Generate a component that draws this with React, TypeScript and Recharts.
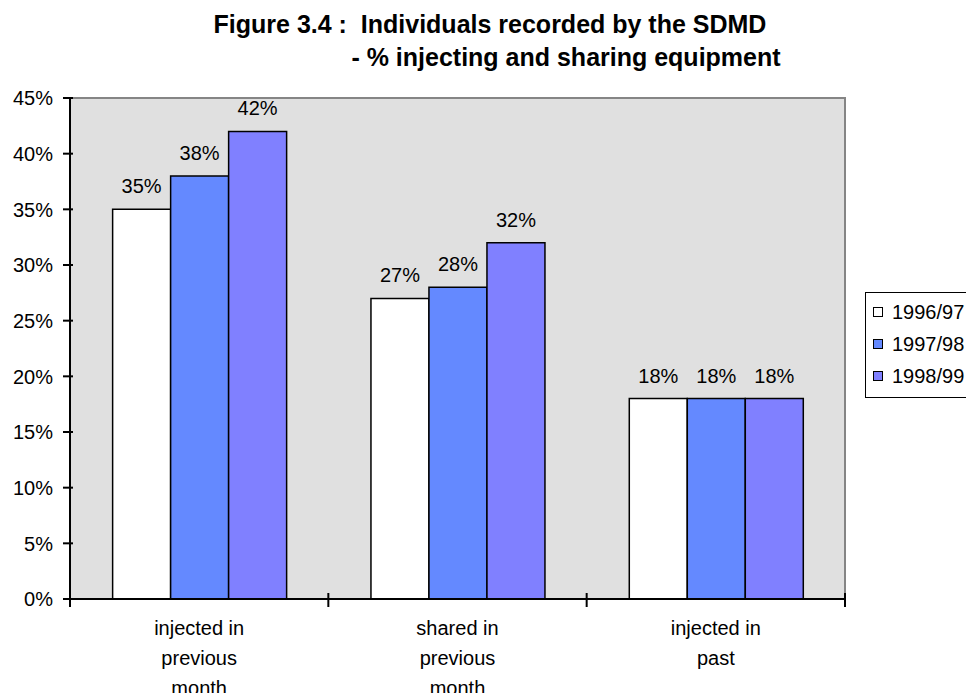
import { Bar, BarChart, LabelList, ReferenceArea, XAxis, YAxis } from "recharts";

const categories = ["injected in\nprevious\nmonth", "shared in\nprevious\nmonth", "injected in\npast"];
const seriesNames = ["1996/97", "1997/98", "1998/99"];
const values9697 = [35, 27, 18];
const values9798 = [38, 28, 18];
const values9899 = [42, 32, 18];
const yTicks = [0, 5, 10, 15, 20, 25, 30, 35, 40, 45];
const seriesColors = ["#FFFFFF", "#6489FF", "#8080FF"];

const font = "'Liberation Sans', Arial, sans-serif";

const chartData = categories.map((name, i) => ({
  name,
  s0: values9697[i],
  s1: values9798[i],
  s2: values9899[i],
}));

function YTick({ x, y, payload }: any) {
  return (
    <g>
      <line x1={x - 7} x2={x + 3} y1={y} y2={y} stroke="#000" strokeWidth={2} />
      <text x={x - 17} y={y} dy="0.36em" textAnchor="end" fontSize={20} fontFamily={font} fill="#000">
        {`${payload.value}%`}
      </text>
    </g>
  );
}

// category labels + tick marks on the category boundaries
function CatTick({ x, y, payload, width, index, visibleTicksCount }: any) {
  const lines = String(payload.value).split("\n");
  const bw = Number(width) / visibleTicksCount;
  const edges = [x - bw / 2];
  if (index === visibleTicksCount - 1) edges.push(x + bw / 2);
  return (
    <g>
      {edges.map((ex, i) => (
        <line key={i} x1={ex} x2={ex} y1={y - 6} y2={y + 8} stroke="#000" strokeWidth={2} />
      ))}
      <text x={x} y={y + 36} textAnchor="middle" fontSize={20} fontFamily={font} fill="#000">
        {lines.map((l, i) => (
          <tspan key={i} x={x} dy={i === 0 ? 0 : 30}>{l}</tspan>
        ))}
      </text>
    </g>
  );
}

export default function App() {
  return (
    <div style={{ position: "absolute", left: 0, top: 0, width: 966, height: 693, overflow: "hidden", background: "#fff" }}>
      <svg width={966} height={80} style={{ position: "absolute", left: 0, top: 0 }}>
        <text x={490} y={33} textAnchor="middle" fontSize={25} fontWeight="bold" fontFamily={font} fill="#000" xmlSpace="preserve">
          Figure 3.4 :  Individuals recorded by the SDMD
        </text>
        <text x={566} y={66} textAnchor="middle" fontSize={25} fontWeight="bold" fontFamily={font} fill="#000">
          - % injecting and sharing equipment
        </text>
      </svg>
      <div style={{ position: "absolute", left: 0, top: 0 }}>
        <BarChart
          width={966}
          height={693}
          data={chartData}
          margin={{ top: 98, right: 121, bottom: 0, left: 0 }}
          barCategoryGap="16.5%"
          barGap={0}
        >
          <ReferenceArea
            x1={categories[0]}
            x2={categories[categories.length - 1]}
            y1={0}
            y2={45}
            fill="#E0E0E0"
            fillOpacity={1}
            stroke="#858585"
            strokeWidth={2}
          />
          <XAxis
            dataKey="name"
            height={94}
            interval={0}
            axisLine={{ stroke: "#000", strokeWidth: 2 }}
            tickLine={false}
            tickSize={0}
            tickMargin={0}
            tick={<CatTick />}
          />
          <YAxis
            width={70}
            domain={[0, 45]}
            ticks={yTicks}
            interval={0}
            axisLine={{ stroke: "#000", strokeWidth: 2 }}
            tickLine={false}
            tickSize={0}
            tickMargin={0}
            tick={<YTick />}
          />
          {["s0", "s1", "s2"].map((key, i) => (
            <Bar
              key={key}
              dataKey={key}
              name={seriesNames[i]}
              fill={seriesColors[i]}
              stroke="#000"
              strokeWidth={1.5}
              isAnimationActive={false}
            >
              <LabelList
                dataKey={key}
                position="top"
                offset={16}
                formatter={(v: any) => `${v}%`}
                fontSize={20}
                fontFamily={font}
                fill="#000"
              />
            </Bar>
          ))}
        </BarChart>
      </div>
      <div
        style={{
          position: "absolute",
          left: 865,
          top: 292,
          width: 130,
          height: 104,
          border: "1px solid #000",
          background: "#fff",
          fontFamily: font,
          fontSize: 20,
        }}
      >
        {seriesNames.map((name, i) => (
          <div key={name} style={{ position: "absolute", left: 7, top: 6 + i * 32, height: 26, display: "flex", alignItems: "center" }}>
            <span style={{ display: "inline-block", width: 8, height: 8, border: "1.5px solid #000", background: seriesColors[i], marginRight: 9 }} />
            <span>{name}</span>
          </div>
        ))}
      </div>
    </div>
  );
}
